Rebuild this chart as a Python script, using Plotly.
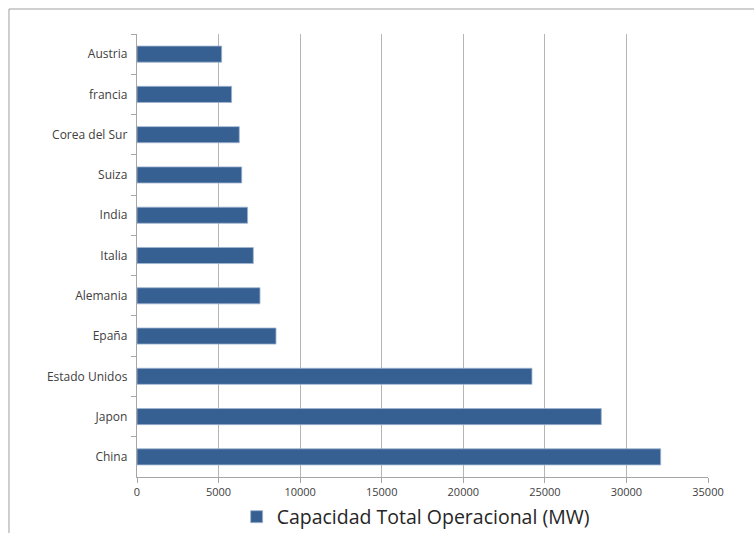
import plotly.graph_objects as go

countries = ["Austria", "francia", "Corea del Sur", "Suiza", "India", "Italia",
             "Alemania", "Epaña", "Estado Unidos", "Japon", "China"]
capacity_mw = [5190, 5800, 6270, 6420, 6780, 7130, 7540, 8520, 24210, 28460, 32100]
x_ticks = [0, 5000, 10000, 15000, 20000, 25000, 30000, 35000]
series_name = "Capacidad Total Operacional (MW)"

fig = go.Figure()
fig.add_trace(go.Bar(
    y=countries, x=capacity_mw, orientation="h", name=series_name,
    marker=dict(color="#376092", line=dict(color="#9fb5d1", width=0.8)),
    showlegend=True,
))

font = "Open Sans, Arial, sans-serif"
fig.update_layout(
    width=754, height=533,
    margin=dict(l=137, r=46, t=34, b=56, autoexpand=False),
    paper_bgcolor="white", plot_bgcolor="white",
    bargap=0.6,
    font=dict(family=font, color="#404040"),
    showlegend=True,
    legend=dict(orientation="h", x=0.488, xanchor="center", xref="paper",
                yref="container", y=0.03, yanchor="middle",
                font=dict(size=19.5, color="#262626"), itemwidth=30),
    xaxis=dict(range=[0, 35000], tickvals=x_ticks, ticktext=[str(v) for v in x_ticks],
               showgrid=True, gridcolor="#b5b5b5", gridwidth=1,
               showline=True, linecolor="#a6a6a6", linewidth=1,
               ticks="outside", ticklen=5, tickcolor="#a6a6a6", automargin=False,
               tickfont=dict(size=11, color="#404040"), zeroline=False, fixedrange=True),
    yaxis=dict(autorange="reversed", showline=True, linecolor="#a6a6a6", linewidth=1,
               ticks="outside", ticklen=5, tickcolor="#a6a6a6", tickson="boundaries",
               automargin=False,
               tickfont=dict(size=12, color="#404040"), showgrid=False, ticksuffix="  "),
    shapes=[
        dict(type="line", xref="paper", yref="paper", x0=-0.2242, x1=-0.2242, y0=-0.5, y1=1.0564,
             line=dict(color="#a0a0a0", width=1)),
        dict(type="line", xref="paper", yref="paper", x0=-0.2242, x1=1.5, y0=1.0564, y1=1.0564,
             line=dict(color="#a0a0a0", width=1)),
    ],
)

fig.write_html("out.html")
